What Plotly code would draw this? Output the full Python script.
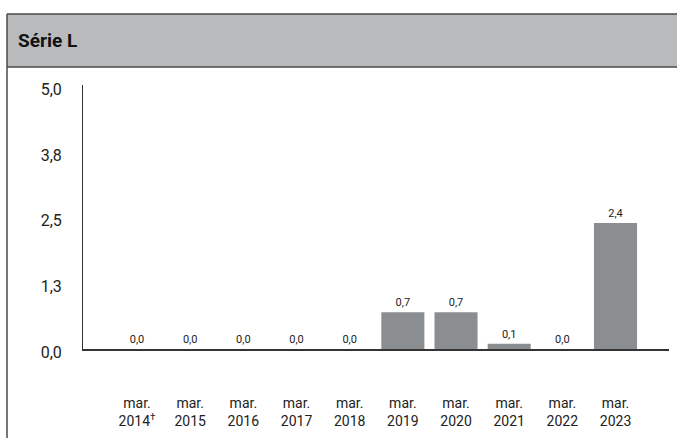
import plotly.graph_objects as go

# Data
categories = ["mar.<br>2014<sup>†</sup>", "mar.<br>2015", "mar.<br>2016", "mar.<br>2017",
              "mar.<br>2018", "mar.<br>2019", "mar.<br>2020", "mar.<br>2021",
              "mar.<br>2022", "mar.<br>2023"]
values = [0.0, 0.0, 0.0, 0.0, 0.0, 0.7, 0.7, 0.1, 0.0, 2.4]
y_tickvals = [0, 1.25, 2.5, 3.75, 5.0]
y_ticktext = ["0,0", "1,3", "2,5", "3,8", "5,0"]
title_text = "Série L"

W, H = 677, 438
FONT = "Roboto, sans-serif"
LINE = "#4a4a4a"


def px_x(x):
    return x / W


def px_y(y):
    return 1 - y / H


labels = [f"{v:.1f}".replace(".", ",") for v in values]

fig = go.Figure(
    go.Bar(
        x=list(range(len(categories))),
        y=values,
        width=0.81,
        marker=dict(color="#8b8e91", line=dict(width=0)),
        text=labels,
        textposition="outside",
        textfont=dict(family=FONT, size=11, color="#222222"),
        cliponaxis=False,
        hoverinfo="skip",
    )
)

fig.update_layout(
    width=W,
    height=H,
    margin=dict(l=0, r=0, t=0, b=0),
    paper_bgcolor="white",
    plot_bgcolor="white",
    showlegend=False,
    font=dict(family=FONT, color="#222222"),
    xaxis=dict(
        domain=[px_x(83), px_x(669)],
        range=[-1.016, 10.006],
        tickmode="array",
        tickvals=list(range(len(categories))),
        ticktext=categories,
        tickfont=dict(family=FONT, size=14, color="#222222"),
        ticks="",
        ticklabelstandoff=40,
        showgrid=False,
        zeroline=False,
        showline=True,
        linecolor="#333333",
        linewidth=1.5,
        automargin=False,
        fixedrange=True,
    ),
    yaxis=dict(
        domain=[px_y(349), px_y(85)],
        range=[0, 5.03],
        tickmode="array",
        tickvals=y_tickvals,
        ticktext=y_ticktext,
        tickfont=dict(family=FONT, size=16, color="#222222"),
        ticks="",
        ticklabelstandoff=17,
        ticklabelshift=3,
        showgrid=False,
        zeroline=False,
        showline=True,
        linecolor="#333333",
        linewidth=1,
        automargin=False,
        fixedrange=True,
    ),
    shapes=[
        # header band
        dict(type="rect", xref="paper", yref="paper",
             x0=px_x(7), x1=1.01, y0=px_y(67), y1=px_y(14),
             fillcolor="#b9babc", line=dict(width=0), layer="below"),
        # frame lines
        dict(type="line", xref="paper", yref="paper",
             x0=px_x(7), x1=1.01, y0=px_y(14), y1=px_y(14),
             line=dict(color=LINE, width=1.5)),
        dict(type="line", xref="paper", yref="paper",
             x0=px_x(7), x1=1.01, y0=px_y(67), y1=px_y(67),
             line=dict(color=LINE, width=1.5)),
        dict(type="line", xref="paper", yref="paper",
             x0=px_x(7), x1=px_x(7), y0=px_y(14), y1=-0.01,
             line=dict(color=LINE, width=1.5)),
    ],
    annotations=[
        dict(text=f"<b>{title_text}</b>", xref="paper", yref="paper",
             x=px_x(16), y=px_y(41), xanchor="left", yanchor="middle",
             showarrow=False, font=dict(family=FONT, size=19, color="#111111")),
    ],
)

fig.write_html("out.html")
